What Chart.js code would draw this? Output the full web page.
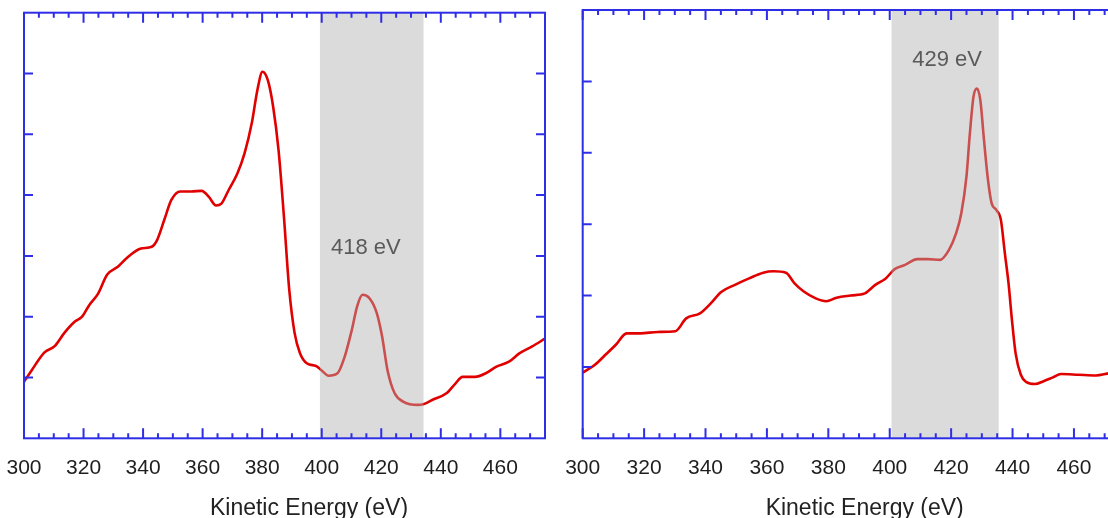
<!DOCTYPE html>
<html>
<head>
<meta charset="utf-8">
<script src="https://cdn.jsdelivr.net/npm/chart.js@4.4.1/dist/chart.umd.min.js"></script>
<style>
    html, body { margin: 0; padding: 0; background: #fff; overflow: hidden; }
    body { width: 1108px; height: 518px; position: relative; }
    .panel { position: absolute; top: 0; height: 518px; }
    #left { left: 0; width: 560px; }
    #right { left: 560px; width: 580px; }
</style>
</head>
<body>
<div class="panel" id="left"><canvas id="chart-left"></canvas></div>
<div class="panel" id="right"><canvas id="chart-right"></canvas></div>
<script>
// x axis tick labels (eV)
const xTicks = [300, 320, 340, 360, 380, 400, 420, 440, 460];

// left spectrum
const leftEnergy = [300, 302.6, 306.8, 310.4, 313.5, 317.1, 319.5, 321.9, 324.9, 327.9, 331.5, 335.1, 339.3, 342.9,
    344.7, 347.1, 349.5, 352.5, 356.1, 359.7, 362.1, 364.5, 366.3, 368.7, 371.7, 374.1, 376.5, 378.4, 380.1,
    381.9, 383.7, 385.5, 387.3, 389.1, 390.9, 392.7, 395.1, 398.1, 399.9, 402.3, 405.3, 407.7, 410.1, 411.9,
    413.7, 416.1, 418.5, 420.3, 422.1, 424.5, 427.5, 432.3, 434.1, 437.1, 441.9, 444.9, 447.3, 451.5, 455.1,
    458.7, 462.9, 466.5, 470.7, 475];
const leftIntensity = [0.93, 1.12, 1.41, 1.52, 1.73, 1.92, 2.0, 2.19, 2.38, 2.69, 2.82, 2.99, 3.12, 3.15,
    3.26, 3.59, 3.92, 4.06, 4.06, 4.07, 3.97, 3.83, 3.86, 4.08, 4.36, 4.69, 5.18, 5.73, 6.03,
    5.89, 5.45, 4.74, 3.65, 2.44, 1.73, 1.40, 1.23, 1.19, 1.12, 1.03, 1.07, 1.34, 1.78, 2.17,
    2.36, 2.30, 2.06, 1.67, 1.12, 0.74, 0.60, 0.55, 0.56, 0.63, 0.74, 0.90, 1.01, 1.01, 1.07,
    1.18, 1.26, 1.40, 1.51, 1.64];

// right spectrum
const rightEnergy = [300, 304.0, 307.4, 310.8, 314.3, 318.8, 324.5, 330.2, 333.7, 338.2, 341.7, 345.1, 349.6,
    354.2, 358.8, 362.2, 366.2, 369.0, 371.9, 375.9, 379.3, 382.7, 387.3, 391.9, 395.3, 398.7, 401.6,
    405.0, 409.0, 412.4, 416.4, 419.3, 421.6, 423.3, 425.0, 426.1, 427.3, 428.4, 429.5, 430.7, 432.0,
    433.2, 434.7, 436.2, 437.5, 438.7, 439.8, 441.0, 442.7, 444.4, 447.3, 450.1, 453.0, 455.8, 461.5,
    467.2, 471.5, 475];
const rightIntensity = [0.92, 1.03, 1.17, 1.31, 1.47, 1.47, 1.49, 1.50, 1.68, 1.75, 1.89, 2.05, 2.15,
    2.24, 2.32, 2.34, 2.32, 2.17, 2.06, 1.96, 1.92, 1.97, 2.00, 2.03, 2.15, 2.24, 2.37,
    2.43, 2.51, 2.51, 2.50, 2.64, 2.87, 3.15, 3.67, 4.27, 4.79, 4.90, 4.74, 4.18, 3.62,
    3.29, 3.20, 3.06, 2.59, 2.17, 1.66, 1.19, 0.89, 0.79, 0.76, 0.80, 0.85, 0.90, 0.89,
    0.88, 0.91, 0.92];

// shaded windows (eV) and their labels
const leftBand = [399.4, 434.2];
const rightBand = [400.6, 435.5];
const bandLabels = ["418 eV", "429 eV"];
const axisTitle = "Kinetic Energy (eV)";

const FONT = "'Liberation Sans', Arial, sans-serif";
const AXIS_BLUE = "#2e2ee6";

// band overlay, framed box with inward ticks, axis title
const framePlugin = {
    id: "frame",
    afterDatasetsDraw(chart, args, opts) {
        const { ctx, chartArea: a, scales: { x, y } } = chart;
        ctx.save();

        const b0 = x.getPixelForValue(opts.band[0]);
        const b1 = x.getPixelForValue(opts.band[1]);
        ctx.fillStyle = "rgba(175,175,175,0.45)";
        ctx.fillRect(b0, a.top, b1 - b0, a.bottom - a.top);

        ctx.fillStyle = "#5a5a5a";
        ctx.font = "22px " + FONT;
        ctx.textAlign = "center";
        ctx.textBaseline = "alphabetic";
        ctx.fillText(opts.label, x.getPixelForValue(opts.labelAt[0]), y.getPixelForValue(opts.labelAt[1]));

        ctx.strokeStyle = AXIS_BLUE;
        ctx.lineWidth = 2;
        ctx.beginPath();
        for (let v = x.min; v <= x.max; v += 5) {
            const px = x.getPixelForValue(v);
            const len = xTicks.includes(v) ? 10 : 5;
            ctx.moveTo(px, a.bottom); ctx.lineTo(px, a.bottom - len);
            ctx.moveTo(px, a.top); ctx.lineTo(px, a.top + len);
        }
        for (let v = y.min + 1; v < y.max; v++) {
            const py = y.getPixelForValue(v);
            ctx.moveTo(a.left, py); ctx.lineTo(a.left + 9, py);
            ctx.moveTo(a.right, py); ctx.lineTo(a.right - 9, py);
        }
        ctx.stroke();
        ctx.strokeRect(a.left, a.top, a.right - a.left, a.bottom - a.top);

        ctx.fillStyle = "#222";
        ctx.font = "23px " + FONT;
        ctx.fillText(axisTitle, a.left + opts.titleOffset, 515);
        ctx.restore();
    }
};

function makeChart(id, energy, intensity, yMax, padding, frame) {
    return new Chart(document.getElementById(id), {
        type: "line",
        data: {
            datasets: [{
                data: energy.map((e, i) => ({ x: e, y: intensity[i] })),
                borderColor: "#e10000",
                borderWidth: 2.6,
                pointRadius: 0,
                cubicInterpolationMode: "monotone",
                fill: false
            }]
        },
        options: {
            responsive: true,
            maintainAspectRatio: false,
            animation: false,
            layout: { padding },
            plugins: { legend: { display: false }, tooltip: { enabled: false }, frame },
            scales: {
                x: {
                    type: "linear",
                    min: 300,
                    max: 475,
                    afterBuildTicks: s => { s.ticks = xTicks.map(v => ({ value: v })); },
                    afterFit: s => { s.height = 518 - 438.3; },
                    // hidden tick marks only push the labels down
                    grid: { display: false, drawTicks: true, tickLength: 17 },
                    border: { display: false },
                    ticks: { padding: 0, color: "#1e1e1e", font: { family: FONT, size: 21 } }
                },
                y: { display: false, min: 0, max: yMax }
            }
        },
        plugins: [framePlugin]
    });
}

makeChart("chart-left", leftEnergy, leftIntensity, 7,
    { left: 24, top: 12.7, right: 15, bottom: 0 },
    { band: leftBand, label: bandLabels[0], labelAt: [414.8, 3.03], titleOffset: 285 });

makeChart("chart-right", rightEnergy, rightIntensity, 6,
    { left: 22.7, top: 10, right: 20, bottom: 0 },
    { band: rightBand, label: bandLabels[1], labelAt: [418.7, 5.21], titleOffset: 282 });
</script>
</body>
</html>
